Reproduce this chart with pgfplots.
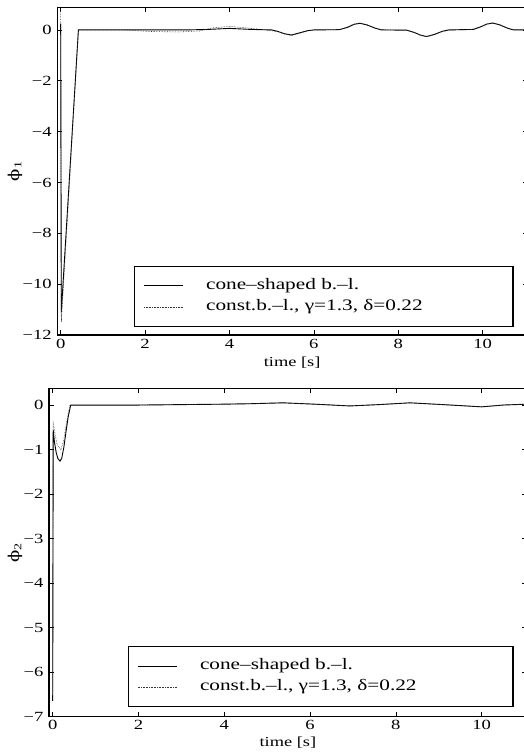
\documentclass[border=0pt]{standalone}
\usepackage{fontspec}
\setmainfont{Liberation Serif}[FakeStretch=1.33]
\newfontfamily\phifont{DejaVu Serif}[FakeStretch=1.2]
\usepackage{pgfplots}
\pgfplotsset{compat=1.18}

\pgfplotstableread{
t y
0 0.25
0.015 -11.1
0.42 0
1.0 0
2.0 0
3.0 0
3.5 0.02
4.0 0.06
4.5 0.02
5.0 0
5.15 -0.06
5.3 -0.15
5.47 -0.2
5.65 -0.12
5.85 -0.03
6.0 0
6.6 0.01
6.8 0.1
6.95 0.22
7.09 0.26
7.25 0.2
7.45 0.07
7.6 0
8.2 -0.01
8.38 -0.1
8.52 -0.2
8.67 -0.26
8.85 -0.18
9.05 -0.05
9.2 0
9.78 0.02
9.95 0.12
10.1 0.23
10.24 0.27
10.4 0.2
10.6 0.06
10.73 0
11.05 0
}\conetop

\pgfplotstableread{
t y
0 0.8
0.015 -11.5
0.42 0
1.5 0
2.1 -0.06
2.8 -0.08
3.3 -0.04
3.6 0.08
4.0 0.14
4.4 0.08
4.8 0.01
5.15 -0.07
5.3 -0.16
5.47 -0.22
5.65 -0.14
5.85 -0.04
6.0 0
6.6 0.01
6.8 0.12
6.95 0.23
7.09 0.27
7.25 0.21
7.45 0.08
7.6 0.01
8.2 -0.01
8.38 -0.1
8.52 -0.21
8.67 -0.27
8.85 -0.19
9.05 -0.06
9.2 -0.01
9.78 0.02
9.95 0.13
10.1 0.24
10.24 0.28
10.4 0.21
10.6 0.07
10.73 0.01
11.05 0
}\consttop

\pgfplotstableread{
t y
0 -6.65
0.012 -0.56
0.04 -0.82
0.08 -1.06
0.12 -1.2
0.17 -1.26
0.21 -1.2
0.26 -0.95
0.31 -0.6
0.36 -0.27
0.42 0
1 0
2 0
3 0.01
4 0.02
4.6 0.03
5.37 0.05
6.1 0.02
6.93 -0.02
7.6 0.01
8.33 0.05
9.1 0.01
10.0 -0.04
10.5 0
11.05 0.02
}\conebot

\pgfplotstableread{
t y
0 -6.6
0.01 -0.37
0.05 -0.62
0.1 -0.88
0.19 -1.01
0.25 -0.82
0.32 -0.42
0.40 0
1 0
2 0
3 0.01
4 0.02
4.6 0.03
5.37 0.05
6.1 0.02
6.93 -0.02
7.6 0.01
8.33 0.05
9.1 0.01
10.0 -0.04
10.5 0
11.05 0.02
}\constbot

\pgfplotsset{
  mystyle/.style={
    scale only axis,
    anchor=south west,
    axis line style={line width=1.2pt},
    every tick/.style={black, line width=0.6pt},
    tick align=inside,
    major tick length=4.5pt,
    xtick={0,2,4,6,8,10},
    tick label style={font=\fontsize{14}{16}\selectfont},
    /pgf/number format/assume math mode=true,
    xticklabel style={yshift=-0.5pt},
    yticklabel style={xshift=-2pt},
    xlabel={time [s]},
    xlabel style={font=\fontsize{13.8}{16}\selectfont, anchor=center},
    ylabel style={font=\fontsize{15}{17}\selectfont, anchor=center},
    legend cell align=left,
    legend image code/.code={\draw[##1] (0pt,0pt) -- (38.7pt,0pt);},
    legend style={font=\fontsize{16}{19}\selectfont, draw=black, line width=1.2pt,
      inner xsep=9pt, inner ysep=12pt, row sep=6pt, column sep=23pt,
      nodes={inner sep=0pt, text height=11pt, text depth=4pt}},
  }
}

\begin{document}
\begin{tikzpicture}
\begin{axis}[mystyle,
  at={(57.3pt,420pt)},
  width=469.7pt, height=327.7pt,
  xmin=-0.08, xmax=11.05, ymin=-12, ymax=0.89,
  ytick={-12,-10,-8,-6,-4,-2,0},
  yticklabels={−12,−10,−8,−6,−4,−2,0},
  xlabel style={at={(axis description cs:0.5,0)}, yshift=-28pt},
  ylabel={{\phifont ϕ}\textsubscript{1}},
  ylabel style={at={(axis description cs:-0.09,0.5)}},
  legend style={at={(rel axis cs:0.163,0.0244)}, anchor=south west},
]
\addplot[black, line width=0.9pt] table {\conetop};
\addlegendentry{\makebox[298pt][l]{cone–shaped b.–l.}}
\addplot[black!80, line width=0.6pt, densely dotted] table {\consttop};
\addlegendentry{\makebox[298pt][l]{const.b.–l., γ=1.3, δ=0.22}}
\end{axis}

\begin{axis}[mystyle,
  at={(49pt,38.5pt)},
  width=477.7pt, height=327.9pt,
  xmin=-0.086, xmax=11.05, ymin=-7, ymax=0.37,
  ytick={-7,-6,-5,-4,-3,-2,-1,0},
  yticklabels={−7,−6,−5,−4,−3,−2,−1,0},
  xlabel style={at={(axis description cs:0.5,0)}, yshift=-26.5pt},
  ylabel={{\phifont ϕ}\textsubscript{2}},
  ylabel style={at={(axis description cs:-0.071,0.5)}},
  legend style={at={(rel axis cs:0.165,0.028)}, anchor=south west},
]
\addplot[black, line width=0.9pt] table {\conebot};
\addlegendentry{\makebox[304pt][l]{cone–shaped b.–l.}}
\addplot[black!80, line width=0.6pt, densely dotted] table {\constbot};
\addlegendentry{\makebox[304pt][l]{const.b.–l., γ=1.3, δ=0.22}}
\end{axis}
\pgfresetboundingbox
\path[use as bounding box] (0,0) rectangle (523pt,755pt);
\end{tikzpicture}
\end{document}
